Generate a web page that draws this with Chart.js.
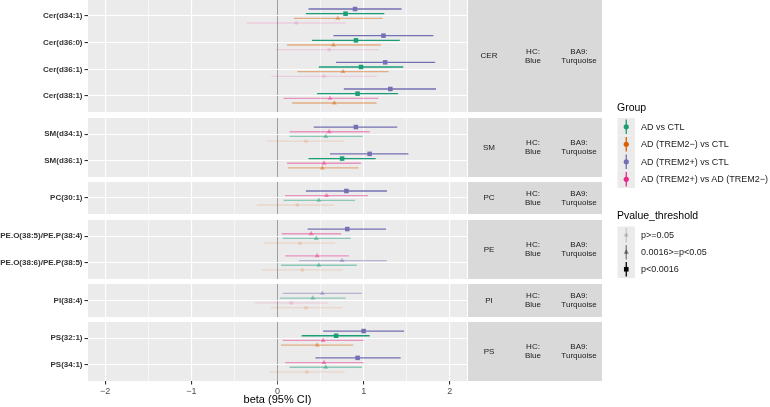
<!DOCTYPE html>
<html>
<head>
<meta charset="utf-8">
<script src="https://cdn.jsdelivr.net/npm/chart.js@4/dist/chart.umd.min.js"></script>
<style>
  body { margin: 0; background: #fff; overflow: hidden; font-family: "Liberation Sans", Arial, sans-serif; }
  #wrap { position: relative; width: 770px; height: 407px; }
  #wrap canvas { position: absolute; left: 0; }
  .lgTitle { position: absolute; left: 617px; font-size: 10.5px; color: #000; white-space: nowrap; }
  .lgLabel { position: absolute; left: 641px; font-size: 9px; color: #1a1a1a; white-space: nowrap; line-height: 10px; }
</style>
</head>
<body>
<div id="wrap"></div>
<script>
// rows (lipid species) and the facet each belongs to
const rows = ['Cer(d34:1)', 'Cer(d36:0)', 'Cer(d36:1)', 'Cer(d38:1)', 'SM(d34:1)', 'SM(d36:1)',
  'PC(30:1)', 'PE.O(38:5)/PE.P(38:4)', 'PE.O(38:6)/PE.P(38:5)', 'PI(38:4)', 'PS(32:1)', 'PS(34:1)'];
const rowClass = ['CER', 'CER', 'CER', 'CER', 'SM', 'SM', 'PC', 'PE', 'PE', 'PI', 'PS', 'PS'];
const classes = ['CER', 'SM', 'PC', 'PE', 'PI', 'PS'];
const stripRegion = ['HC:', 'Blue'];
const stripModule = ['BA9:', 'Turquoise'];

const groups = ['AD vs CTL', 'AD (TREM2\u2212) vs CTL', 'AD (TREM2+) vs CTL', 'AD (TREM2+) vs AD (TREM2\u2212)'];
const groupColors = ['#1B9E77', '#D95F02', '#7570B3', '#E7298A'];
const thresholds = ['p>=0.05', '0.0016>=p<0.05', 'p<0.0016'];

// beta, lower and upper 95% CI, threshold index (0: p>=0.05, 1: 0.0016..0.05, 2: p<0.0016)
const betaADvsCTL = [0.79, 0.91, 0.97, 0.93, 0.56, 0.75, 0.48, 0.45, 0.48, 0.41, 0.68, 0.56];
const loADvsCTL   = [0.33, 0.40, 0.48, 0.46, 0.14, 0.36, 0.07, 0.06, 0.04, 0.03, 0.28, 0.14];
const hiADvsCTL   = [1.24, 1.42, 1.46, 1.40, 0.99, 1.14, 0.90, 0.85, 0.92, 0.79, 1.07, 0.98];
const thrADvsCTL  = [2, 2, 2, 2, 1, 2, 1, 1, 1, 1, 2, 1];

const betaNeg = [0.70, 0.65, 0.76, 0.66, 0.33, 0.52, 0.23, 0.26, 0.29, 0.33, 0.46, 0.34];
const loNeg   = [0.19, 0.11, 0.23, 0.17, -0.12, 0.12, -0.24, -0.16, -0.18, -0.08, 0.04, -0.09];
const hiNeg   = [1.22, 1.20, 1.29, 1.15, 0.77, 0.94, 0.66, 0.67, 0.76, 0.75, 0.88, 0.78];
const thrNeg  = [1, 1, 1, 1, 0, 1, 0, 0, 0, 0, 1, 0];

const betaPos = [0.90, 1.23, 1.25, 1.31, 0.91, 1.07, 0.80, 0.81, 0.75, 0.52, 1.00, 0.93];
const loPos   = [0.36, 0.65, 0.68, 0.77, 0.42, 0.61, 0.33, 0.35, 0.25, 0.06, 0.53, 0.44];
const hiPos   = [1.44, 1.81, 1.83, 1.84, 1.39, 1.52, 1.27, 1.26, 1.27, 0.98, 1.47, 1.43];
const thrPos  = [2, 2, 2, 2, 2, 2, 2, 2, 1, 1, 2, 2];

const betaPosNeg = [0.22, 0.60, 0.54, 0.61, 0.60, 0.54, 0.57, 0.39, 0.46, 0.16, 0.53, 0.54];
const loPosNeg   = [-0.36, -0.02, -0.07, 0.07, 0.14, 0.11, 0.09, 0.05, 0.09, -0.26, 0.06, 0.09];
const hiPosNeg   = [0.79, 1.18, 1.15, 1.17, 1.07, 0.97, 1.05, 0.74, 0.83, 0.59, 1.00, 1.00];
const thrPosNeg  = [0, 0, 0, 1, 1, 1, 1, 1, 1, 0, 1, 1];

const xTicks = [-2, -1.5, -1, -0.5, 0, 0.5, 1, 1.5, 2];

const series = [
  { beta: betaADvsCTL, lo: loADvsCTL, hi: hiADvsCTL, thr: thrADvsCTL },
  { beta: betaNeg, lo: loNeg, hi: hiNeg, thr: thrNeg },
  { beta: betaPos, lo: loPos, hi: hiPos, thr: thrPos },
  { beta: betaPosNeg, lo: loPosNeg, hi: hiPosNeg, thr: thrPosNeg },
];

// styling
const dodgeRank = [2, 3, 1, 0];   // order of groups inside a row at equal threshold
const alphas = [0.15, 0.45, 1];
const shapes = ['circle', 'triangle', 'rect'];
const radii = [2, 2.9, 3.2];
const ROW = 26.7, GAP = 5.7, EXP = 0.6, DODGE = 0.175;
const LEFT = 88, RIGHT = 467, STRIP0 = 468, STRIP1 = 602, AXIS_H = 26;
const FONT = '"Liberation Sans", Arial, sans-serif';

function rgba(hex, a) {
  const n = parseInt(hex.slice(1), 16);
  return `rgba(${n >> 16},${(n >> 8) & 255},${n & 255},${a})`;
}

const panelPlugin = {
  id: 'panel',
  beforeDraw(chart) {
    const { ctx, chartArea: a } = chart;
    const cls = chart.options.plugins.panel.label;
    ctx.save();
    ctx.fillStyle = '#EBEBEB';
    ctx.fillRect(a.left, a.top, a.width, a.height);
    ctx.fillStyle = '#D9D9D9';
    ctx.fillRect(STRIP0, a.top, STRIP1 - STRIP0, a.height);
    ctx.fillStyle = '#1a1a1a';
    ctx.font = '8px ' + FONT;
    ctx.textAlign = 'center';
    ctx.textBaseline = 'middle';
    const mid = (a.top + a.bottom) / 2;
    ctx.fillText(cls, 489, mid);
    [[stripRegion, 533], [stripModule, 579]].forEach(([lines, cx]) => {
      lines.forEach((t, k) => ctx.fillText(t, cx, mid + (k - 0.5) * 9.3));
    });
    ctx.restore();
  }
};

const wrap = document.getElementById('wrap');
let y0 = 0;
classes.forEach((cls, fi) => {
  const idx = rows.map((r, i) => i).filter(i => rowClass[i] === cls);
  const n = idx.length;
  const last = fi === classes.length - 1;
  const top = Math.round(y0);
  const bottom = Math.round(y0 + (n - 1 + 2 * EXP) * ROW);
  y0 += (n - 1 + 2 * EXP) * ROW + GAP;

  const canvas = document.createElement('canvas');
  canvas.width = 770;
  canvas.height = bottom - top + (last ? AXIS_H : 0);
  canvas.style.top = top + 'px';
  wrap.appendChild(canvas);

  const datasets = [];
  series.forEach((s, g) => {
    for (let t = 0; t < 3; t++) {
      const lineData = [], pointData = [];
      idx.forEach((i, k) => {
        if (s.thr[i] !== t) return;
        // dodge slot within the row
        const keys = series.map((o, h) => (2 - o.thr[i]) * 4 + dodgeRank[h]);
        const mine = keys[g];
        const slot = keys.filter(v => v < mine).length;
        const y = k + (slot - 1.5) * DODGE;
        lineData.push({ x: s.lo[i], y }, { x: s.hi[i], y }, { x: null, y: null });
        pointData.push({ x: s.beta[i], y });
      });
      if (!pointData.length) continue;
      const col = rgba(groupColors[g], alphas[t]);
      datasets.push({
        data: lineData, showLine: true, spanGaps: false, pointRadius: 0,
        borderColor: col, borderWidth: 1.3, borderCapStyle: 'butt'
      });
      datasets.push({
        data: pointData, pointStyle: shapes[t], pointRadius: radii[t],
        pointBackgroundColor: col, pointBorderColor: col, pointBorderWidth: 0
      });
    }
  });

  new Chart(canvas, {
    type: 'scatter',
    data: { datasets },
    plugins: [panelPlugin],
    options: {
      responsive: false,
      animation: false,
      events: [],
      layout: { autoPadding: false, padding: { left: 0, right: 770 - RIGHT, top: 0, bottom: 0 } },
      plugins: { legend: { display: false }, tooltip: { enabled: false }, panel: { label: cls } },
      scales: {
        x: {
          type: 'linear', min: -2.2, max: 2.2,
          afterBuildTicks: sc => { sc.ticks = xTicks.map(v => ({ value: v })); },
          afterFit: sc => { sc.height = last ? AXIS_H : 0; sc.paddingLeft = 0; sc.paddingRight = 0; },
          ticks: {
            display: last, autoSkip: false, maxRotation: 0, padding: 1.5,
            color: '#4d4d4d', font: { family: FONT, size: 9 },
            callback: v => Number.isInteger(v) ? String(v).replace('-', '\u2212') : ''
          },
          grid: {
            drawTicks: last, tickLength: 3.5,
            color: c => c.tick && c.tick.value === 0 ? '#8a8a8a' : '#ffffff',
            lineWidth: c => !c.tick ? 1 : c.tick.value === 0 ? 0.8 : Number.isInteger(c.tick.value) ? 1.1 : 0.55,
            tickColor: c => c.tick && Number.isInteger(c.tick.value) ? '#333333' : 'rgba(0,0,0,0)'
          },
          border: { display: false },
          title: {
            display: last, text: 'beta (95% CI)', color: '#000',
            font: { family: FONT, size: 11 }, padding: { top: 0, bottom: 0 }
          }
        },
        y: {
          type: 'linear', reverse: true, min: -EXP, max: n - 1 + EXP,
          afterBuildTicks: sc => { sc.ticks = idx.map((_, k) => ({ value: k })); },
          afterFit: sc => { sc.width = LEFT; sc.paddingTop = 0; sc.paddingBottom = 0; },
          ticks: {
            autoSkip: false, padding: 2, color: '#333333',
            font: { family: FONT, size: 8, weight: 'bold' },
            callback: v => rows[idx[v]]
          },
          grid: { color: '#ffffff', lineWidth: 1.1, tickLength: 3.5, tickColor: '#333333' },
          border: { display: false }
        }
      }
    }
  });
});

// legends
function addText(cls, text, top) {
  const d = document.createElement('div');
  d.className = cls;
  d.textContent = text;
  d.style.top = top + 'px';
  wrap.appendChild(d);
}
const KEY = 17.5;
const keyCanvas = document.createElement('canvas');
keyCanvas.width = 20; keyCanvas.height = 190;
keyCanvas.style.left = '617px'; keyCanvas.style.top = '110px';
wrap.appendChild(keyCanvas);
const kc = keyCanvas.getContext('2d');

function drawKey(top, color, shape, r) {
  const y = top - 110;
  kc.fillStyle = '#EBEBEB';
  kc.fillRect(0.5, y, 17.5, KEY);
  kc.strokeStyle = color; kc.fillStyle = color; kc.lineWidth = 1.3;
  const cx = 9.25, cy = y + KEY / 2;
  kc.beginPath(); kc.moveTo(cx, y + 1.5); kc.lineTo(cx, y + KEY - 1.5); kc.stroke();
  kc.beginPath();
  if (shape === 'circle') kc.arc(cx, cy, r, 0, Math.PI * 2);
  else if (shape === 'rect') kc.rect(cx - r * 0.72, cy - r * 0.72, r * 1.44, r * 1.44);
  else { kc.moveTo(cx, cy - r); kc.lineTo(cx + r * 0.87, cy + r * 0.5); kc.lineTo(cx - r * 0.87, cy + r * 0.5); kc.closePath(); }
  kc.fill();
}

addText('lgTitle', 'Group', 101);
groups.forEach((gname, g) => {
  const top = 118 + g * KEY;
  drawKey(top, groupColors[g], 'circle', 2.6);
  addText('lgLabel', gname, top + KEY / 2 - 5);
});

addText('lgTitle', 'Pvalue_threshold', 209);
thresholds.forEach((tname, t) => {
  const top = 226.5 + t * 17;
  drawKey(top, rgba('#000000', alphas[t]), shapes[t], radii[t]);
  addText('lgLabel', tname, top + KEY / 2 - 5);
});
</script>
</body>
</html>
